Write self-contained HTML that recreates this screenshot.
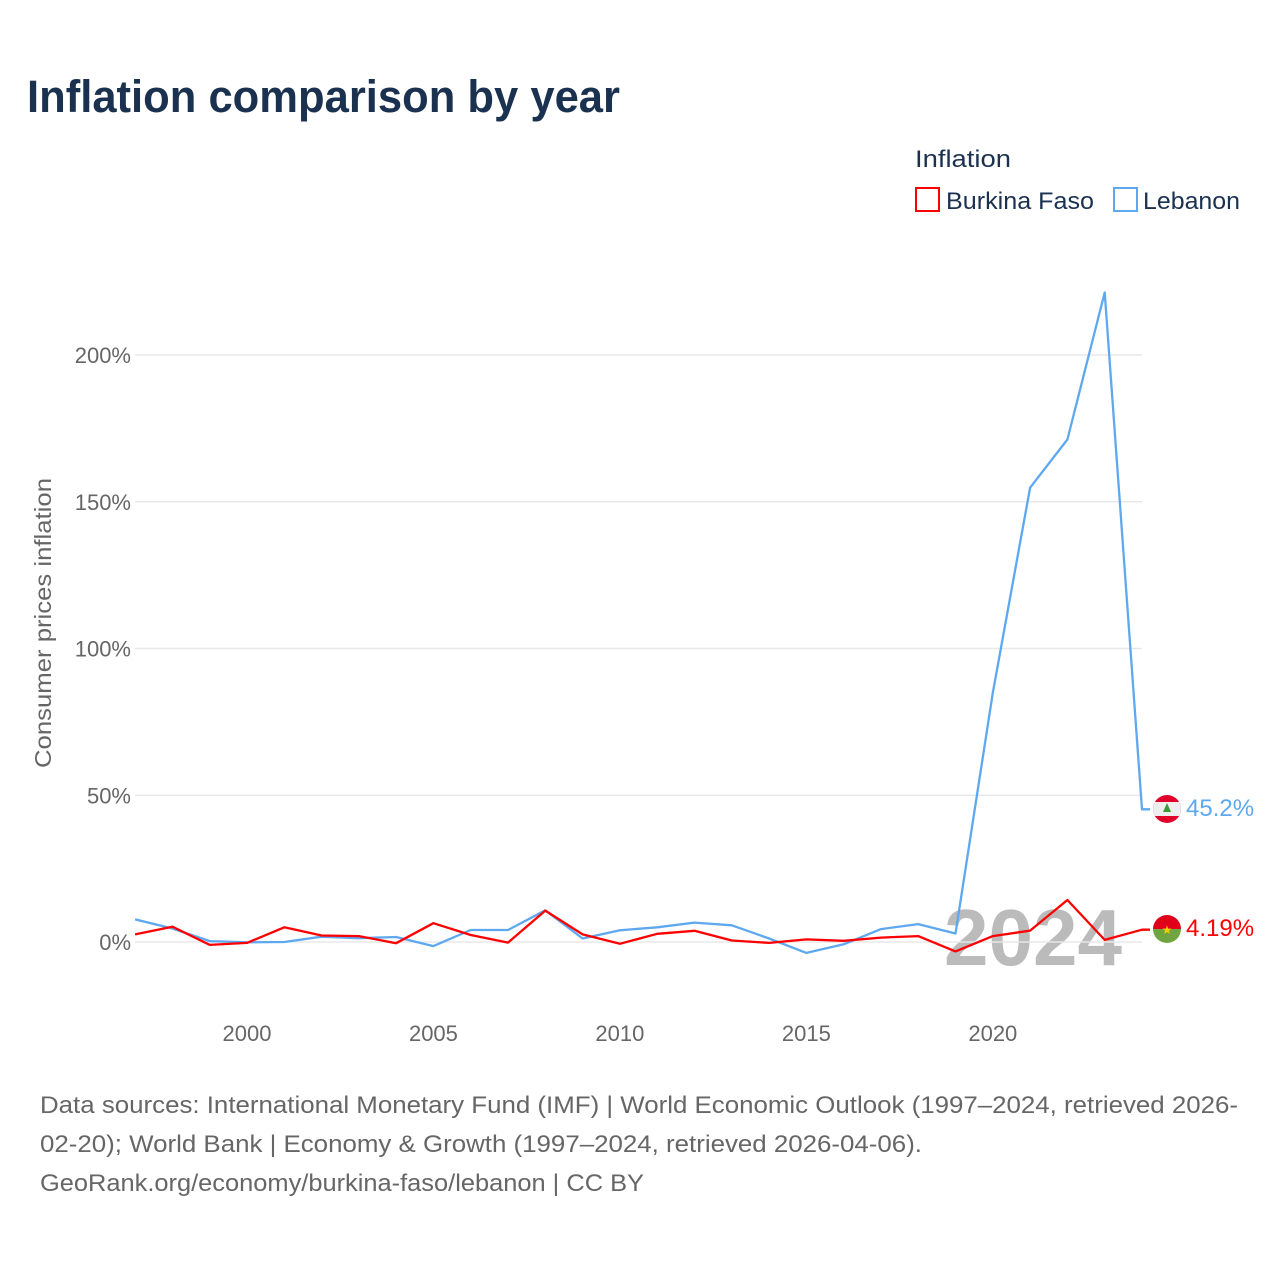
<!DOCTYPE html>
<html><head><meta charset="utf-8"><style>
body{margin:0;background:#fff;font-family:"Liberation Sans",sans-serif}
#c{position:relative;width:1280px;height:1280px;overflow:hidden}
</style></head><body>
<div id="c">
<svg id="s" width="1280" height="1280" xmlns="http://www.w3.org/2000/svg">
<text x="27" y="112" font-size="45" font-weight="bold" fill="#1b3150" textLength="593" lengthAdjust="spacingAndGlyphs">Inflation comparison by year</text>
<text x="915" y="167" font-size="24" fill="#1b3150" textLength="96" lengthAdjust="spacingAndGlyphs">Inflation</text>
<g><rect x="916" y="188" width="23" height="23" fill="none" stroke="#ff0000" stroke-width="2"/><text x="946" y="209" font-size="24" fill="#1b3150" textLength="148" lengthAdjust="spacingAndGlyphs">Burkina Faso</text></g>
<g><rect x="1114" y="188" width="23" height="23" fill="none" stroke="#5ea8ef" stroke-width="2"/><text x="1143" y="209" font-size="24" fill="#1b3150" textLength="97" lengthAdjust="spacingAndGlyphs">Lebanon</text></g>
<text transform="translate(51,623) rotate(-90)" text-anchor="middle" font-size="23" fill="#666" textLength="290" lengthAdjust="spacingAndGlyphs">Consumer prices inflation</text>
<text x="1122" y="965" text-anchor="end" font-size="80" font-weight="bold" fill="#bbb">2024</text>
<g id="grid"></g><g id="ticks"></g><g id="lines"></g>
<g><clipPath id="cl"><circle cx="1167" cy="809" r="14"/></clipPath><g clip-path="url(#cl)"><rect x="1150" y="792" width="34" height="34" fill="#e0002a"/><rect x="1150" y="802" width="34" height="14" fill="#eee"/><path d="M1167 803 l-4 9 h8z" fill="#3a9a3a"/></g></g>
<g><clipPath id="cb"><circle cx="1167" cy="929" r="14"/></clipPath><g clip-path="url(#cb)"><rect x="1150" y="912" width="34" height="17" fill="#e0001a"/><rect x="1150" y="929" width="34" height="17" fill="#6ea540"/></g><text x="1167" y="934" text-anchor="middle" font-size="12" fill="#f5d000">★</text></g>
<text x="1186" y="816" font-size="24" fill="#5ea8ef">45.2%</text>
<text x="1186" y="936" font-size="24" fill="#ff0000">4.19%</text>
<text x="40" y="1113" font-size="24" fill="#666" textLength="1198" lengthAdjust="spacingAndGlyphs">Data sources: International Monetary Fund (IMF) | World Economic Outlook (1997–2024, retrieved 2026-</text>
<text x="40" y="1152" font-size="24" fill="#666" textLength="882" lengthAdjust="spacingAndGlyphs">02-20); World Bank | Economy &amp; Growth (1997–2024, retrieved 2026-04-06).</text>
<text x="40" y="1191" font-size="24" fill="#666" textLength="604" lengthAdjust="spacingAndGlyphs">GeoRank.org/economy/burkina-faso/lebanon | CC BY</text>
</svg>
</div>
<script>
const years=[1997,1998,1999,2000,2001,2002,2003,2004,2005,2006,2007,2008,2009,2010,2011,2012,2013,2014,2015,2016,2017,2018,2019,2020,2021,2022,2023,2024];
const burkina=[2.6,5.2,-1.0,-0.3,5.0,2.2,2.0,-0.4,6.4,2.4,-0.2,10.7,2.6,-0.6,2.8,3.8,0.5,-0.3,0.9,0.4,1.5,2.0,-3.2,2.0,3.9,14.3,0.7,4.19];
const lebanon=[7.7,4.6,0.3,-0.1,0,1.8,1.3,1.7,-1.4,4.1,4.1,10.8,1.2,4.0,5.0,6.6,5.7,1.2,-3.7,-0.8,4.4,6.1,2.9,84.9,154.8,171.2,221.3,45.2];
const yTicks=[0,50,100,150,200];
const xTicks=[2000,2005,2010,2015,2020];
const NS="http://www.w3.org/2000/svg";
const x=v=>135.1+(v-1997)*(1142-135.1)/27;
const y=v=>942-v*2.935;
function mk(t,a,p){const e=document.createElementNS(NS,t);for(const k in a)e.setAttribute(k,a[k]);p.appendChild(e);return e;}
const grid=document.getElementById('grid'),ticks=document.getElementById('ticks'),lines=document.getElementById('lines');
yTicks.forEach(v=>{
const l=mk('line',{x1:135,x2:1142,y1:y(v),y2:y(v),stroke:'#e8e8e8','stroke-width':1.5},grid);


const t=mk('text',{x:131,y:y(v)+8,'text-anchor':'end','font-size':22,fill:'#666'},ticks);
t.textContent=v+'%';


});
xTicks.forEach(v=>{
const t=mk('text',{x:x(v),y:1041,'text-anchor':'middle','font-size':22,fill:'#666'},ticks);
t.textContent=v;


});
function series(vals,col,name){
let d=vals.map((v,i)=>(i?'L':'M')+x(years[i]).toFixed(1)+' '+y(v).toFixed(1)).join(' ');
d+=' H'+(x(years[years.length-1])+8);
const p=mk('path',{d:d,fill:'none',stroke:col,'stroke-width':2.3,'stroke-linejoin':'round'},lines);


}
series(lebanon,'#5ea8ef','lebanon-line');
series(burkina,'#ff0000','burkina-faso-line');
</script>
</body></html>
